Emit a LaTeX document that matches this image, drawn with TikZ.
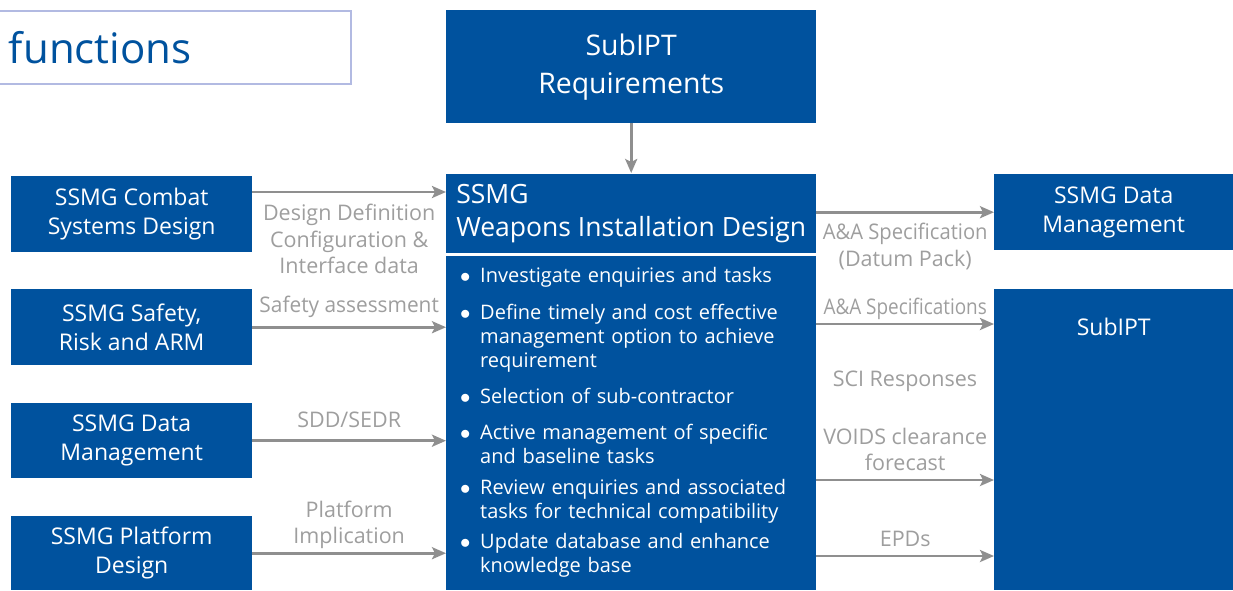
\documentclass[tikz,border=0pt]{standalone}
\usepackage{graphicx}
\usepackage{fontspec}
\setmainfont{Open Sans}
\usetikzlibrary{arrows.meta,calc,positioning}
\definecolor{ssmgblue}{RGB}{0,82,158}
\definecolor{flowgrey}{RGB}{143,143,143}
\definecolor{lblgrey}{RGB}{158,158,158}
\definecolor{framelav}{RGB}{178,186,226}
\newcommand{\task}[1]{\hangindent=22pt\hangafter=1\noindent\makebox[22pt][l]{\hspace{2pt}$\bullet$}#1\par}
\newcommand{\narrow}[2]{\scalebox{#1}[1]{#2}}
\tikzset{%
	unit/.style     = {fill=ssmgblue, text=white, align=center, inner sep=0pt, anchor=north west}, % blue box
	side/.style     = {unit, minimum width=241, font=\fontsize{23}{29}\selectfont}, % left boxes
	flow/.style     = {draw=flowgrey, line width=2.6pt, -{Stealth[length=14pt,width=12pt,inset=3pt]}}, % arrow
	lbl/.style      = {text=lblgrey, align=center, font=\fontsize{21.5}{26.5}\selectfont, inner sep=3pt}, % arrow text
	frame/.style    = {draw=framelav, line width=2pt, anchor=north west, minimum width=360, minimum height=73, inner xsep=18pt, text width=324, align=left, text=ssmgblue, font=\fontsize{42}{48}\selectfont},
}

\begin{document}
\begin{tikzpicture}[x=1pt, y=-1pt]
	\useasboundingbox (0,0) rectangle (1233,590);
	\node[frame] (ttl) at (-10,10) {functions};
	% centre column
	\node[unit, minimum width=370, minimum height=113, font=\fontsize{28.4}{38}\selectfont] (req) at (446,10) {SubIPT\\Requirements};
	\node[unit, minimum width=370, minimum height=79, align=left, font=\fontsize{26.5}{33}\selectfont] (wid) at (446,174) {SSMG\\Weapons Installation Design};
	\node[unit, minimum width=370, minimum height=334] (tasks) at (446,256) {};
	\node[anchor=base west, inner sep=0pt, text width=360, align=left, text=white, font=\fontsize{20}{24}\selectfont] (list) at (458,282) {%
		\task{Investigate enquiries and tasks}\vspace{13pt}
		\task{Define timely and cost effective\newline management option to achieve\newline requirement}\vspace{12pt}
		\task{Selection of sub-contractor}\vspace{12pt}
		\task{Active management of specific\newline and baseline tasks}\vspace{7pt}
		\task{Review enquiries and associated\newline tasks for technical compatibility}\vspace{6pt}
		\task{Update database and enhance\newline knowledge base}};
	\draw[flow, shorten >=1pt] (req) -- (wid);
	% inputs
	\node[side, minimum height=76] (comb) at (11,176) {SSMG Combat\\Systems Design};
	\node[side, minimum height=76] (safe) at (11,289) {SSMG Safety,\\Risk and ARM};
	\node[side, minimum height=75] (data) at (11,403) {SSMG Data\\Management};
	\node[side, minimum height=74] (plat) at (11,516) {SSMG Platform\\Design};
	\draw[flow] ([yshift=-16pt]comb.north east) -- ([yshift=-16pt]comb.north east -| wid.west) node[lbl, midway, below, yshift=-8pt] {Design Definition\\Configuration \&\\Interface data};
	\draw[flow] (safe) -- (safe -| tasks.west) node[lbl, midway, above, yshift=5pt] {\narrow{0.97}{Safety assessment}};
	\draw[flow] (data) -- (data -| tasks.west) node[lbl, midway, above, yshift=9pt] {SDD/SEDR};
	\draw[flow] (plat) -- (plat -| tasks.west) node[lbl, midway, above] {Platform\\Implication};
	% outputs
	\node[unit, minimum width=239, minimum height=76, font=\fontsize{23}{29}\selectfont] (dm) at (994,174) {SSMG Data\\Management};
	\node[unit, minimum width=239, minimum height=301, label={[anchor=center, yshift=-38pt, text=white, font=\fontsize{23}{29}\selectfont]north:SubIPT}] (sub) at (994,289) {};
	\draw[flow] (dm -| wid.east) -- (dm) node[lbl, midway, below, yshift=-7pt] {\narrow{0.94}{A\&A Specification}\\(Datum Pack)};
	\draw[flow] ([yshift=-35pt]sub.north west -| tasks.east) -- ([yshift=-35pt]sub.north west) node[lbl, midway, above] {\narrow{0.88}{A\&A Specifications}};
	\node[lbl] (sci) at (905,381) {SCI Responses};
	\draw[flow] ([yshift=-191pt]sub.north west -| tasks.east) -- ([yshift=-191pt]sub.north west) node[lbl, midway, above, yshift=5pt] {VOIDS clearance\\forecast};
	\draw[flow] ([yshift=-267pt]sub.north west -| tasks.east) -- ([yshift=-267pt]sub.north west) node[lbl, midway, above, yshift=5pt] {EPDs};
\end{tikzpicture}
\end{document}
